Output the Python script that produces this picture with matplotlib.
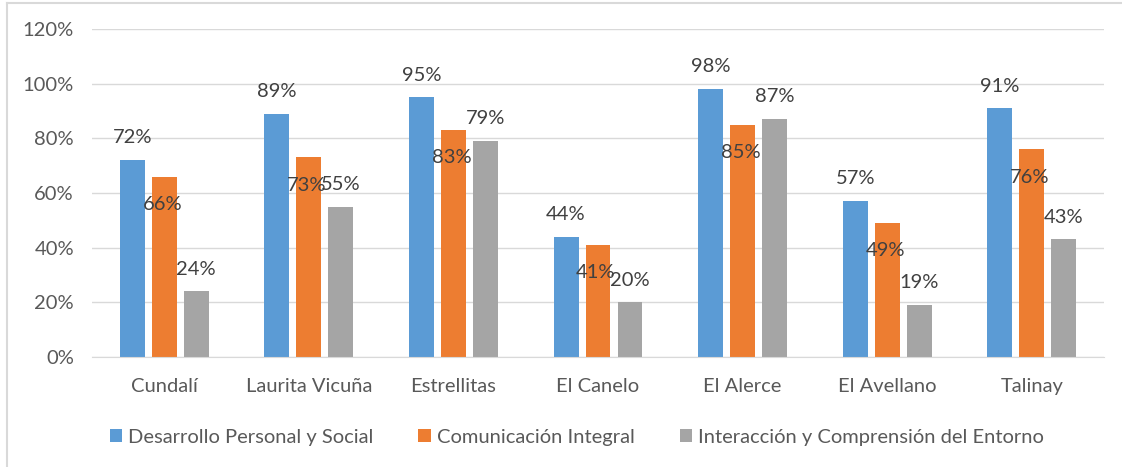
import numpy as np
import matplotlib.pyplot as plt
from matplotlib.lines import Line2D
from matplotlib.patches import Patch

plt.rcParams['font.family'] = ['Lato', 'DejaVu Sans']

# data
escuelas = ["Cundalí", "Laurita Vicuña", "Estrellitas", "El Canelo",
            "El Alerce", "El Avellano", "Talinay"]
desarrollo = [72, 89, 95, 44, 98, 57, 91]
comunicacion = [66, 73, 83, 41, 85, 49, 76]
interaccion = [24, 55, 79, 20, 87, 19, 43]
series_names = ["Desarrollo Personal y Social", "Comunicación Integral",
                "Interacción y Comprensión del Entorno"]

colors = ["#5B9BD5", "#ED7D31", "#A5A5A5"]
txt = "#595959"
lbl = "#404040"
fs = 14.5

fig = plt.figure(figsize=(11.22, 4.67), dpi=100)
ax = fig.add_axes([0.082, 0.2355, 0.902, 0.7024])

x = np.arange(len(escuelas))
w = 0.172
step = 0.221
# label offsets in points (blue/grey above the bar, orange inside it)
offs = [(0, 16), (-1.5, -20), (0, 16)]

for i, (vals, c) in enumerate(zip([desarrollo, comunicacion, interaccion], colors)):
    xs = x + (i - 1) * step
    ax.bar(xs, np.array(vals) / 100, width=w, color=c, zorder=2)
    for xi, v in zip(xs, vals):
        ax.annotate(f"{v}%", (xi, v / 100), xytext=offs[i], textcoords="offset points",
                    ha="center", va="center", fontsize=fs, color=lbl, zorder=3)

ax.set_xlim(-0.5, len(escuelas) - 0.5)
ax.set_ylim(0, 1.2)
ax.set_yticks(np.arange(0, 1.21, 0.2))
ax.set_yticklabels([f"{int(round(t * 100))}%" for t in np.arange(0, 1.21, 0.2)])
ax.set_xticks(x)
ax.set_xticklabels(escuelas)
ax.tick_params(axis="both", length=0, colors=txt, labelsize=fs)
ax.tick_params(axis="y", pad=13)
ax.tick_params(axis="x", pad=15)
ax.grid(axis="y", color="#D9D9D9", linewidth=1, zorder=0)
for s in ["top", "right", "left"]:
    ax.spines[s].set_visible(False)
ax.spines["bottom"].set_color("#D9D9D9")

handles = [Patch(facecolor=c, edgecolor="none") for c in colors]
leg = fig.legend(handles, series_names, loc="center", bbox_to_anchor=(0.514, 0.064),
                 ncol=3, frameon=False, fontsize=fs, handlelength=0.6, handleheight=0.6,
                 handletextpad=0.3, columnspacing=2.25)
for t in leg.get_texts():
    t.set_color(txt)

# light frame lines at top and left, as in the original image
fig.add_artist(Line2D([0.006, 1], [0.993, 0.993], color="#D9D9D9", lw=1.5, transform=fig.transFigure))
fig.add_artist(Line2D([0.006, 0.006], [0, 0.993], color="#D9D9D9", lw=1.5, transform=fig.transFigure))

fig.savefig("out.png", dpi=100)
